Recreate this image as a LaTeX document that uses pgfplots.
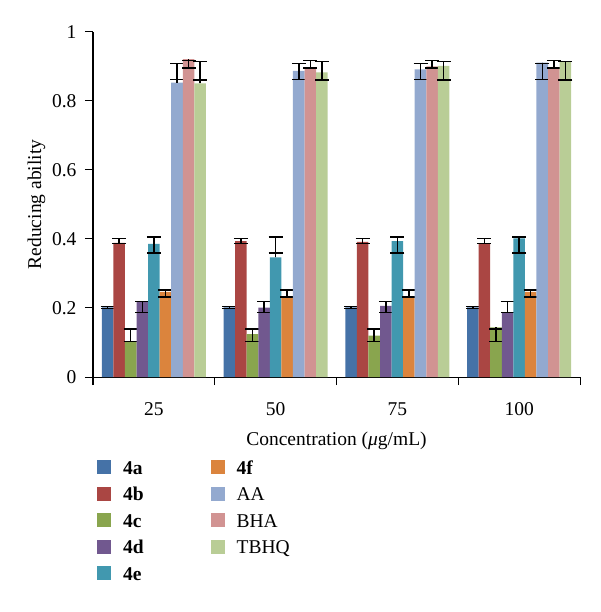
\documentclass[border=0pt]{standalone}
\usepackage{fontspec}
\setmainfont{Liberation Serif}
\usepackage{pgfplots}
\pgfplotsset{compat=1.18}
\usepackage{pgfplotstable}
\definecolor{c4a}{HTML}{4572A7}
\definecolor{c4b}{HTML}{AA4643}
\definecolor{c4c}{HTML}{89A54E}
\definecolor{c4d}{HTML}{71588F}
\definecolor{c4e}{HTML}{4198AF}
\definecolor{c4f}{HTML}{DB843D}
\definecolor{cAA}{HTML}{93A9CF}
\definecolor{cBHA}{HTML}{D19392}
\definecolor{cTBHQ}{HTML}{B9CD96}
\pgfplotsset{sqlegend/.style={legend image code/.code={\fill[##1,draw=none] (0pt,0pt) rectangle (14pt,14pt);}}}
\pgfplotstableread{
x a b c d e f AA BHA TBHQ
0 0.202 0.389 0.102 0.218 0.386 0.247 0.853 0.921 0.851
1 0.202 0.394 0.124 0.201 0.347 0.231 0.887 0.895 0.883
2 0.202 0.392 0.120 0.206 0.394 0.233 0.892 0.900 0.902
3 0.202 0.387 0.144 0.188 0.402 0.247 0.911 0.897 0.914
}\data
\begin{document}
\begin{tikzpicture}[font=\fontsize{19.5}{22}\selectfont]
\path (-93pt,-235pt) rectangle (507pt,377pt);
\begin{axis}[
  scale only axis, width=487pt, height=345pt,
  at={(0,0)}, anchor=south west,
  ybar=0pt, bar width=0.095,
  xmin=-0.5, xmax=3.5, ymin=0, ymax=1,
  axis lines*=left,
  axis line style={line width=1pt, black},
  xtick={0,1,2,3}, xticklabels={25,50,75,100},
  minor xtick={-0.5,0.5,1.5,2.5,3.5},
  major x tick style={draw=none},
  minor x tick style={line width=1pt, black},
  ytick={0,0.2,0.4,0.6,0.8,1},
  yticklabels={0,0.2,0.4,0.6,0.8,1},
  y tick style={line width=1pt, black},
  tick align=outside,
  major tick length=8pt, minor tick length=8pt,
  xticklabel style={yshift=-14pt},
  yticklabel style={xshift=-5pt},
  xlabel={Concentration (\textit{μ}g/mL)},
  ylabel={Reducing ability},
  xlabel style={yshift=-9pt},
  error bars/y dir=both, error bars/y explicit,
  error bars/error bar style={line width=1.5pt, black},
  error bars/error mark options={rotate=90, mark size=7pt, line width=1.5pt, black},
  legend columns=5, transpose legend,
  legend style={at={(0,0)}, anchor=north west, xshift=4pt, yshift=-83pt,
    draw=none, fill=none, inner sep=0pt, outer sep=0pt, row sep=12.5pt,
    nodes={inner sep=0pt, anchor=base west, text height=14pt, text depth=0pt},
    /tikz/every odd column/.style={column sep=12pt},
    /tikz/every even column/.style={column sep=67pt}},
]
\addplot[fill=c4a, draw=none, sqlegend] table[x=x, y=a, y error plus expr={0.205-\thisrow{a}}, y error minus expr={\thisrow{a}-0.199}] {\data};
\addlegendentry{\textbf{4a}}
\addplot[fill=c4b, draw=none, sqlegend] table[x=x, y=b, y error plus expr={0.401-\thisrow{b}}, y error minus expr={\thisrow{b}-0.387}] {\data};
\addlegendentry{\textbf{4b}}
\addplot[fill=c4c, draw=none, sqlegend] table[x=x, y=c, y error plus expr={0.139-\thisrow{c}}, y error minus expr={\thisrow{c}-0.103}] {\data};
\addlegendentry{\textbf{4c}}
\addplot[fill=c4d, draw=none, sqlegend] table[x=x, y=d, y error plus expr={0.219-\thisrow{d}}, y error minus expr={\thisrow{d}-0.187}] {\data};
\addlegendentry{\textbf{4d}}
\addplot[fill=c4e, draw=none, sqlegend] table[x=x, y=e, y error plus expr={0.406-\thisrow{e}}, y error minus expr={\thisrow{e}-0.359}] {\data};
\addlegendentry{\textbf{4e}}
\addplot[fill=c4f, draw=none, sqlegend] table[x=x, y=f, y error plus expr={0.252-\thisrow{f}}, y error minus expr={\thisrow{f}-0.232}] {\data};
\addlegendentry{\textbf{4f}}
\addplot[fill=cAA, draw=none, sqlegend] table[x=x, y=AA, y error plus expr={0.909-\thisrow{AA}}, y error minus expr={\thisrow{AA}-0.863}] {\data};
\addlegendentry{AA}
\addplot[fill=cBHA, draw=none, sqlegend] table[x=x, y=BHA, y error plus expr={0.917-\thisrow{BHA}}, y error minus expr={\thisrow{BHA}-0.895}] {\data};
\addlegendentry{BHA}
\addplot[fill=cTBHQ, draw=none, sqlegend] table[x=x, y=TBHQ, y error plus expr={0.914-\thisrow{TBHQ}}, y error minus expr={\thisrow{TBHQ}-0.861}] {\data};
\addlegendentry{TBHQ}
\end{axis}
\end{tikzpicture}
\end{document}
